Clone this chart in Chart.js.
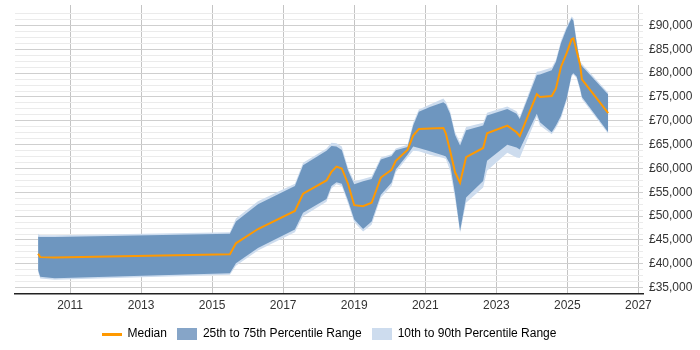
<!DOCTYPE html>
<html>
<head>
<meta charset="utf-8">
<script src="https://cdn.jsdelivr.net/npm/chart.js@4"></script>
<style>
  html, body { margin: 0; padding: 0; background: #fff; }
</style>
</head>
<body>
<canvas id="salaryChart" width="700" height="350"></canvas>
<script>
// salary percentiles over time
const years = [2010.10, 2010.16, 2010.57, 2015.50, 2015.67, 2016.29, 2017.33, 2017.56, 2018.22, 2018.36,
  2018.50, 2018.65, 2018.83, 2019.00, 2019.25, 2019.49, 2019.75, 2020.05, 2020.17, 2020.50,
  2020.66, 2020.82, 2021.13, 2021.51, 2021.58, 2021.70, 2021.84, 2021.98, 2022.15, 2022.63,
  2022.74, 2023.31, 2023.57, 2023.66, 2024.14, 2024.23, 2024.56, 2024.68, 2024.82, 2024.98,
  2025.12, 2025.17, 2025.26, 2025.36, 2025.41, 2026.15];

const median = [42100, 41400, 41300, 42000, 44300, 47300, 51100, 54700, 57500, 59300,
  60400, 60000, 56700, 52300, 52100, 52800, 58100, 59700, 61600, 63900,
  66900, 68300, 68400, 68500, 67300, 63700, 59200, 57000, 62400, 64300,
  67400, 69000, 67600, 66800, 75600, 75000, 75200, 76800, 81300, 84200,
  87100, 87300, 84700, 81700, 78700, 71600];

const p75 = [45700, 45600, 45600, 46300, 48900, 52500, 56300, 60700, 63700, 64700,
  64600, 63900, 59500, 56700, 57300, 57800, 61900, 62600, 63800, 64500,
  69000, 71900, 72900, 73900, 73500, 71500, 67000, 64800, 68000, 69000,
  71100, 72500, 71500, 70400, 79600, 79700, 80600, 82400, 86300, 89300,
  91500, 91000, 86500, 82050, 81500, 75500];

const p25 = [38700, 37300, 36950, 38000, 40100, 43300, 47200, 50700, 53600, 56300,
  57100, 56800, 53200, 49300, 47300, 48900, 54500, 57000, 59800, 62900,
  64600, 64300, 63600, 62700, 62500, 60900, 54600, 46900, 53900, 57400,
  61600, 65000, 64400, 64000, 71500, 69700, 67600, 69000, 71000, 74700,
  79600, 80000, 79300, 76800, 75000, 67600];

const p90 = [46300, 46000, 46000, 46600, 49500, 53100, 56800, 61200, 64200, 65400,
  65300, 64600, 60000, 57300, 57800, 58300, 62300, 63000, 64200, 65000,
  69600, 72400, 73400, 74700, 74000, 72000, 67600, 65500, 68700, 69600,
  71700, 73000, 72000, 70800, 80300, 80400, 81200, 82800, 86800, 89800,
  91900, 91500, 87000, 82500, 82000, 75900];

const p10 = [38300, 36900, 36650, 37700, 39600, 42800, 46600, 50000, 53000, 55800,
  56700, 56300, 52600, 48700, 46800, 48200, 53900, 56300, 59200, 62300,
  63700, 63600, 62900, 62200, 62000, 59500, 53700, 46500, 52800, 56000,
  59500, 63300, 62300, 62200, 70800, 69000, 67200, 68500, 70500, 74200,
  79300, 79700, 79000, 76300, 74600, 67300];

const yearTicks = [2011, 2013, 2015, 2017, 2019, 2021, 2023, 2025, 2027];
const salaryTicks = [];
for (let v = 33750; v <= 92500; v += 1250) salaryTicks.push(v);

const FONT = '"Liberation Sans", Arial, sans-serif';
const ORANGE = '#ff9900';
const DARK = '#6e96bf';
const LIGHT = '#cddcee';

const pts = arr => years.map((x, i) => ({ x: x, y: arr[i] }));

function swatch(w, h, color) {
  const c = document.createElement('canvas');
  c.width = w;
  c.height = h;
  const g = c.getContext('2d');
  g.fillStyle = color;
  g.fillRect(0, 0, w, h);
  return c;
}

const band = { borderWidth: 0, pointRadius: 0, tension: 0 };

const ctx = document.getElementById('salaryChart').getContext('2d');

new Chart(ctx, {
  type: 'line',
  data: {
    datasets: [
      { label: 'Median', data: pts(median), borderColor: ORANGE, borderWidth: 2, pointRadius: 0, tension: 0, fill: false },
      { label: '25th to 75th Percentile Range', data: pts(p75), backgroundColor: DARK, fill: '+1', ...band },
      { label: 'p25', data: pts(p25), fill: false, ...band },
      { label: '10th to 90th Percentile Range', data: pts(p90), backgroundColor: LIGHT, fill: '+1', ...band },
      { label: 'p10', data: pts(p10), fill: false, ...band }
    ]
  },
  options: {
    responsive: false,
    animation: false,
    layout: { padding: { left: 15, top: 5, right: 0, bottom: 0 } },
    plugins: {
      tooltip: { enabled: false },
      legend: {
        position: 'bottom',
        fullSize: false,
        labels: {
          usePointStyle: true,
          pointStyleWidth: 20,
          boxHeight: 12,
          padding: 10,
          color: '#333',
          font: { family: FONT, size: 12 },
          generateLabels: function() {
            return [
              { text: 'Median', pointStyle: swatch(20, 3, ORANGE), fillStyle: ORANGE, strokeStyle: ORANGE, lineWidth: 0, hidden: false, datasetIndex: 0 },
              { text: '25th to 75th Percentile Range', pointStyle: swatch(20, 12, '#86a5c8'), fillStyle: DARK, strokeStyle: DARK, lineWidth: 0, hidden: false, datasetIndex: 1 },
              { text: '10th to 90th Percentile Range', pointStyle: swatch(20, 12, LIGHT), fillStyle: LIGHT, strokeStyle: LIGHT, lineWidth: 0, hidden: false, datasetIndex: 3 }
            ];
          }
        }
      }
    },
    scales: {
      x: {
        type: 'linear',
        min: 2009.45,
        max: 2027.13,
        afterBuildTicks: function(axis) {
          axis.ticks = yearTicks.map(v => ({ value: v }));
        },
        ticks: {
          callback: v => String(v),
          autoSkip: false,
          maxRotation: 0,
          padding: 5,
          color: '#333',
          font: { family: FONT, size: 12 }
        },
        grid: { color: '#c4c4c4', drawTicks: false },
        border: { color: '#222', width: 1.5 }
      },
      y: {
        position: 'right',
        min: 33750,
        max: 94300,
        afterBuildTicks: function(axis) {
          axis.ticks = salaryTicks.map(v => ({ value: v }));
        },
        afterFit: function(scale) {
          scale.width = 57;
          scale.paddingTop = 0;
          scale.paddingBottom = 0;
        },
        ticks: {
          callback: v => (v % 5000 === 0 ? '£' + v.toLocaleString('en-GB') : ''),
          autoSkip: false,
          padding: 6,
          color: '#333',
          font: { family: FONT, size: 12 }
        },
        grid: {
          drawTicks: false,
          color: c => (c.tick && c.tick.value % 5000 === 0 ? '#cfcfcf' : '#ebebeb')
        },
        border: { display: false }
      }
    }
  }
});
</script>
</body>
</html>
